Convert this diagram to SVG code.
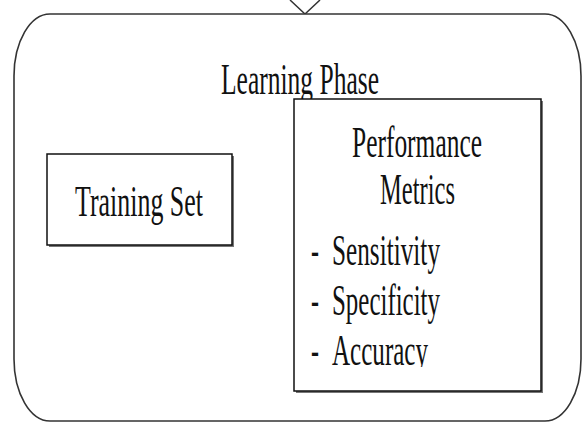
<svg xmlns="http://www.w3.org/2000/svg" width="582" height="423" viewBox="0 0 582 423">
  <style>
    .lbl { font-family: "Liberation Serif", "Times New Roman", serif; font-size: 44px; fill: #111; }
    .box { fill: #fff; stroke: #111; stroke-width: 1.5; }
    .shadow { fill: #777; }
    .phase { fill: #fff; stroke: #333; stroke-width: 1.6; }
    .conn { fill: none; stroke: #333; stroke-width: 1.5; }
  </style>
  <defs>
    <!-- last bullet line is cut just under its baseline -->
    <clipPath id="lastLine">
      <rect x="300" y="320" width="200" height="47"/>
    </clipPath>
  </defs>
  <rect width="582" height="423" fill="#fff"/>

  <!-- connectors -->
  <g id="connectors">
    <path class="conn" d="M290,0 L305,14 L320,0"/>
  </g>

  <!-- outer phase container -->
  <g id="learning-phase">
    <rect class="phase" x="14" y="14" width="567" height="407" rx="36" ry="62"/>
    <text class="lbl" x="221" y="94" textLength="158" lengthAdjust="spacingAndGlyphs">Learning Phase</text>
  </g>

  <g id="training-set">
    <rect class="shadow" x="49" y="156" width="185" height="91"/>
    <rect class="box" x="47" y="154" width="185" height="91"/>
    <text class="lbl" x="75" y="216" textLength="128" lengthAdjust="spacingAndGlyphs">Training Set</text>
  </g>

  <g id="performance-metrics">
    <rect class="shadow" x="296" y="101" width="247" height="292"/>
    <rect class="box" x="294" y="99" width="247" height="292"/>
    <text class="lbl" x="352" y="157" textLength="130" lengthAdjust="spacingAndGlyphs">Performance</text>
    <text class="lbl" x="380" y="204" textLength="75" lengthAdjust="spacingAndGlyphs">Metrics</text>
    <text class="lbl"><tspan x="311" y="265" textLength="8" lengthAdjust="spacingAndGlyphs">-</tspan><tspan x="332" y="265" textLength="108" lengthAdjust="spacingAndGlyphs">Sensitivity</tspan></text>
    <text class="lbl"><tspan x="311" y="315" textLength="8" lengthAdjust="spacingAndGlyphs">-</tspan><tspan x="332" y="315" textLength="108" lengthAdjust="spacingAndGlyphs">Specificity</tspan></text>
    <text class="lbl" clip-path="url(#lastLine)"><tspan x="311" y="365" textLength="8" lengthAdjust="spacingAndGlyphs">-</tspan><tspan x="332" y="365" textLength="96" lengthAdjust="spacingAndGlyphs">Accuracy</tspan></text>
  </g>
</svg>
